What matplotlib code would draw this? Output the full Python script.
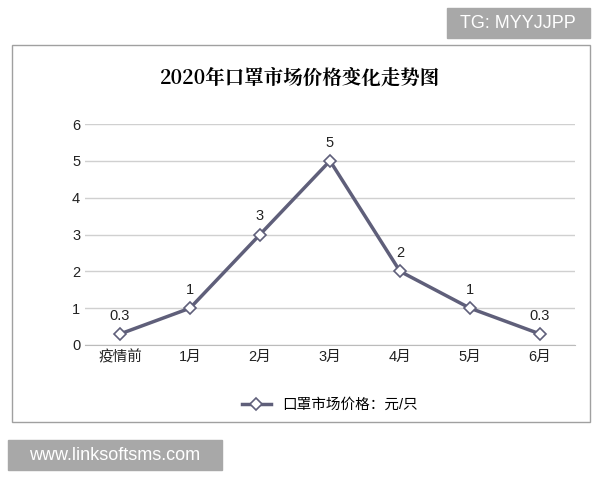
import matplotlib.pyplot as plt
from matplotlib.patches import Rectangle

plt.rcParams['font.family'] = ['Liberation Sans', 'Noto Sans CJK SC']

months = ['疫情前', '1月', '2月', '3月', '4月', '5月', '6月']
prices = [0.3, 1, 3, 5, 2, 1, 0.3]
labels = ['0.3', '1', '3', '5', '2', '1', '0.3']

fig = plt.figure(figsize=(6, 4.8), dpi=100)
# outer chart frame
fig.patches.append(Rectangle((12/600, 1-422/480), 578/600, 377/480, transform=fig.transFigure,
                             fill=False, ec='#a0a0a0', lw=1))
ax = fig.add_axes([85/600, 1-345/480, 490/600, 221/480])
x = range(len(months))
ax.plot(x, prices, color='#5f5f7a', lw=2.5, marker='D', ms=6,
        mfc='white', mec='#5f5f7a', mew=1.2, label='口罩市场价格：元/只')
for i, (v, t) in enumerate(zip(prices, labels)):
    ax.text(i, v + 0.3, t, ha='center', va='bottom', fontsize=10.5, color='#222222')
ax.set_xlim(-0.5, len(months) - 0.5)
ax.set_ylim(0, 6)
ax.set_yticks(range(7))
ax.set_xticks(list(x))
ax.set_xticklabels(months)
ax.tick_params(length=0, labelsize=10.5, colors='#222222')
ax.grid(axis='y', color='#d0d0d0', lw=1)
ax.set_axisbelow(True)
for s in ['top', 'right', 'left']:
    ax.spines[s].set_visible(False)
ax.spines['bottom'].set_color('#bbbbbb')

fig.text(300/600, 1-78/480, '2020年口罩市场价格变化走势图', ha='center', va='center',
         fontsize=14, fontweight='bold', family=['Noto Serif CJK SC', 'Noto Sans CJK SC'])
ax.legend(loc='center', bbox_to_anchor=(0.5, -0.27), frameon=False, fontsize=10.5)

# watermarks
fig.patches.append(Rectangle((447/600, 1-38/480), 143/600, 30/480, transform=fig.transFigure,
                             color='#a8a8a8'))
fig.text(518/600, 1-23/480, 'TG: MYYJJPP', ha='center', va='center', color='white', fontsize=13)
fig.patches.append(Rectangle((8/600, 1-470/480), 214/600, 30/480, transform=fig.transFigure,
                             color='#a8a8a8'))
fig.text(115/600, 1-455/480, 'www.linksoftsms.com', ha='center', va='center', color='white',
         fontsize=13)

fig.savefig('out.png', dpi=100)
